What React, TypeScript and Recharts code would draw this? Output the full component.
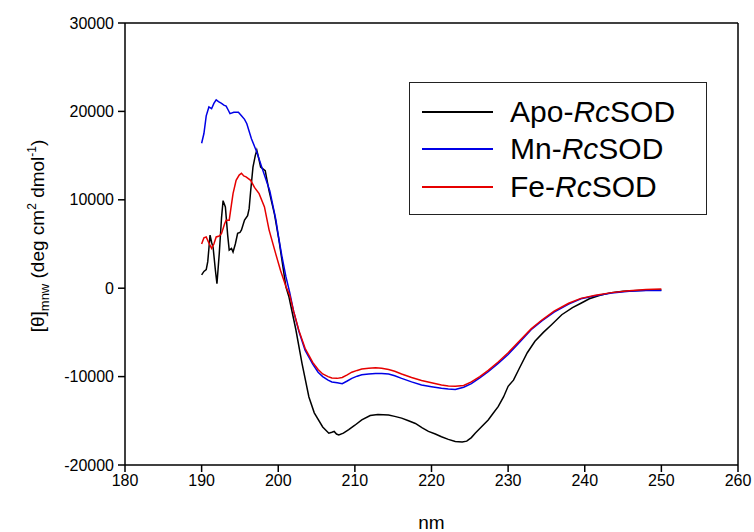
import { LineChart, Line, XAxis, YAxis, Legend, ReferenceLine } from "recharts";

// CD spectra of the three RcSOD forms
const apoNm = [
  190.0, 190.3, 190.6, 190.8, 191.1, 191.3, 191.5, 191.8, 192.0, 192.3, 192.6, 192.8, 193.1, 193.4, 193.6,
  193.9, 194.1, 194.4, 194.7, 195.0, 195.2, 195.6, 196.0, 196.2, 196.4, 196.7, 197.0, 197.2, 197.5, 197.7,
  198.0, 198.3, 198.8, 199.5, 200.1, 201.0, 201.4, 202.3, 203.1, 204.0, 204.7, 205.8, 206.6, 207.0, 207.3,
  207.6, 207.9, 208.5, 209.2, 210.0, 210.9, 212.0, 213.0, 214.4, 215.2, 216.1, 217.0, 217.9, 218.8, 219.6,
  220.5, 221.3, 222.2, 223.1, 224.0, 224.6, 225.2, 225.7, 226.5, 227.4, 228.0, 228.7, 229.4, 230.0, 230.7,
  231.5, 232.5, 233.5, 234.6, 235.7, 237.0, 238.4, 239.5, 240.6, 242.0, 243.5, 245.0, 247.0, 249.0, 250.0,
];
const apoTheta = [
  1500, 1900, 2100, 3000, 6000, 5200, 4600, 2000, 500, 3900, 8000, 9900, 9200, 6000, 4300,
  4500, 4100, 5000, 6200, 6300, 6600, 7700, 8200, 9000, 11000, 13700, 15000, 15600, 14500, 13700,
  13500, 13300, 11000, 8400, 5400, 150, -1000, -4700, -8500, -12300, -14100, -15700, -16400, -16300, -16200,
  -16500, -16600, -16400, -16000, -15500, -14900, -14400, -14300, -14350, -14500, -14700, -15000, -15300, -15800, -16200,
  -16500, -16800, -17100, -17350, -17400, -17300, -16900, -16400, -15700, -14900, -14200, -13400, -12300, -11100, -10400,
  -9000, -7300, -6000, -5000, -4100, -3000, -2200, -1700, -1200, -800, -500, -350, -250, -200, -200,
];

const mnNm = [
  190.0, 190.3, 190.6, 190.95, 191.3, 191.6, 191.9, 192.2, 192.6, 192.9, 193.2, 193.5, 193.7, 194.2, 194.8,
  195.2, 195.6, 195.9, 196.5, 197.2, 198.0, 198.9, 199.7, 200.0, 200.5, 201.0, 201.5, 202.0, 202.7, 203.5,
  204.5, 205.2, 205.8, 206.5, 207.0, 207.7, 208.35, 209.0, 209.6, 210.3, 210.9, 211.8, 212.7, 213.5, 214.4,
  215.2, 216.1, 217.4, 218.7, 220.0, 221.3, 222.2, 223.1, 224.2, 225.2, 226.3, 227.4, 228.7, 230.0, 231.5,
  233.0, 234.4, 236.0, 237.9, 239.5, 241.4, 243.5, 245.8, 248.0, 250.0,
];
const mnTheta = [
  16400, 17500, 19500, 20500, 20300, 20900, 21300, 21100, 20900, 20700, 20600, 20100, 19750, 19900, 19900,
  19500, 19100, 18600, 16900, 15400, 13300, 11000, 7700, 6000, 3500, 1300, -500, -2600, -4900, -7000,
  -8600, -9500, -10000, -10400, -10600, -10700, -10800, -10500, -10200, -9950, -9800, -9700, -9650, -9650, -9700,
  -9900, -10200, -10600, -10950, -11150, -11330, -11400, -11450, -11200, -10800, -10150, -9450, -8500, -7500, -6100,
  -4700, -3700, -2700, -1800, -1200, -850, -550, -350, -250, -250,
];

const feNm = [
  190.0, 190.3, 190.6, 190.9, 191.3, 191.6, 191.9, 192.3, 192.6, 193.0, 193.2, 193.6, 193.9, 194.1, 194.5,
  194.9, 195.2, 195.5, 195.8, 196.1, 196.4, 196.9, 197.5, 198.2, 198.8, 199.7, 200.3, 201.0, 201.5, 202.0,
  202.7, 203.5, 204.5, 205.2, 205.8, 206.5, 207.0, 207.7, 208.35, 209.0, 209.6, 210.3, 210.9, 211.8, 212.7,
  213.5, 214.4, 215.2, 216.1, 217.4, 218.7, 220.0, 221.3, 222.2, 223.1, 224.2, 225.2, 226.3, 227.4, 228.7,
  230.0, 231.5, 233.0, 234.4, 236.0, 237.9, 239.5, 241.4, 243.5, 245.8, 248.0, 250.0,
];
const feTheta = [
  5000, 5700, 5800, 5200, 4500, 5000, 5800, 5900, 6200, 7300, 7700, 7700, 9500, 10700, 12200,
  12800, 13000, 12700, 12600, 12400, 12200, 11400, 10700, 9200, 6600, 3800, 2000, 200, -800, -2600,
  -4800, -6800, -8400, -9200, -9700, -10000, -10150, -10200, -10100, -9800, -9500, -9300, -9150, -9050, -9000,
  -9050, -9200, -9400, -9700, -10100, -10450, -10700, -10950, -11050, -11100, -11000, -10600, -10000, -9300, -8350,
  -7300, -5950, -4600, -3600, -2600, -1700, -1150, -800, -500, -300, -150, -100,
];

const xTicks = [180, 190, 200, 210, 220, 230, 240, 250, 260];
const yTicks = [-20000, -10000, 0, 10000, 20000, 30000];

const series = [
  { key: "apo", prefix: "Apo-", color: "#000000", nm: apoNm, theta: apoTheta },
  { key: "mn", prefix: "Mn-", color: "#0000e6", nm: mnNm, theta: mnTheta },
  { key: "fe", prefix: "Fe-", color: "#e60000", nm: feNm, theta: feTheta },
];

const FONT = "'Liberation Sans', Arial, sans-serif";

function toRows(nm: number[], theta: number[]) {
  return nm.map((x, i) => ({ nm: x, theta: theta[i] }));
}

function YLabel() {
  const cy = 236;
  const x = 44;
  return (
    <text
      x={x}
      y={cy}
      transform={`rotate(-90, ${x}, ${cy})`}
      textAnchor="middle"
      fontFamily={FONT}
      fontSize={19}
      fill="#000"
    >
      [θ]
      <tspan fontSize={13} dy={5}>mnw</tspan>
      <tspan dy={-5}> (deg cm</tspan>
      <tspan fontSize={12} dy={-8}>2</tspan>
      <tspan dy={8}> dmol</tspan>
      <tspan fontSize={12} dy={-8}>-1</tspan>
      <tspan dy={8}>)</tspan>
    </text>
  );
}

function XLabel(props: any) {
  const { viewBox } = props;
  return (
    <text
      x={viewBox.x + viewBox.width / 2}
      y={529}
      textAnchor="middle"
      fontFamily={FONT}
      fontSize={19}
      fill="#000"
    >
      nm
    </text>
  );
}

function LegendBox() {
  return (
    <div
      style={{
        width: 298,
        height: 133,
        border: "1.5px solid #222",
        boxSizing: "border-box",
        background: "#fff",
        paddingTop: 10,
        fontFamily: FONT,
      }}
    >
      {series.map((s) => (
        <div key={s.key} style={{ display: "flex", alignItems: "center", height: 37.5 }}>
          <div style={{ width: 71, height: 2, background: s.color, marginLeft: 12, marginRight: 17 }} />
          <span style={{ fontSize: 30, color: "#000", lineHeight: "30px" }}>
            {s.prefix}
            <i>Rc</i>SOD
          </span>
        </div>
      ))}
    </div>
  );
}

export default function App() {
  const tick = { fontFamily: FONT, fontSize: 16, fill: "#000" };
  return (
    <div style={{ position: "absolute", left: 0, top: 0, background: "#fff" }}>
      <LineChart width={754} height={532} margin={{ top: 23, right: 16, bottom: 0, left: 0 }}>
        <XAxis
          dataKey="nm"
          type="number"
          domain={[180, 260]}
          ticks={xTicks}
          allowDuplicatedCategory={false}
          height={67}
          tick={tick}
          tickSize={7}
          tickMargin={3}
          stroke="#000"
          strokeWidth={1.5}
          label={<XLabel />}
        />
        <YAxis
          type="number"
          domain={[-20000, 30000]}
          ticks={yTicks}
          width={125}
          tick={tick}
          tickSize={7}
          tickMargin={4}
          stroke="#000"
          strokeWidth={1.5}
          label={<YLabel />}
        />
        <ReferenceLine y={30000} stroke="#000" strokeWidth={1.5} />
        <ReferenceLine x={260} stroke="#000" strokeWidth={1.5} />
        {series.map((s) => (
          <Line
            key={s.key}
            data={toRows(s.nm, s.theta)}
            dataKey="theta"
            name={s.key}
            stroke={s.color}
            strokeWidth={1.5}
            dot={false}
            type="linear"
            isAnimationActive={false}
          />
        ))}
        <Legend
          layout="vertical"
          align="center"
          verticalAlign="middle"
          content={() => <LegendBox />}
          wrapperStyle={{ left: 409, top: 82, width: 298, height: 133 }}
        />
      </LineChart>
    </div>
  );
}
